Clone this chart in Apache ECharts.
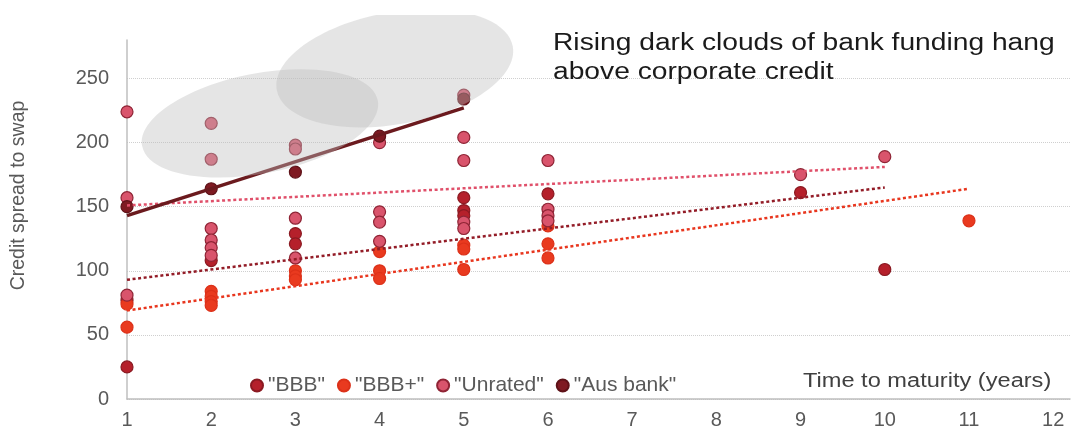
<!DOCTYPE html>
<html lang="en">
  <head>
    <meta charset="UTF-8">
    <title>Bank funding clouds</title>
    <script src="https://cdn.jsdelivr.net/npm/echarts@6/dist/echarts.min.js"></script>
    <style>body { margin: 0; background: #fff; }</style>
  </head>
  <body>
    <div id="main" style="width:1081px;height:431px;"></div>
    <script type="text/javascript">
      // points are [years to maturity, credit spread to swap (bp)]
      const bbb = [[1, 77], [1, 25], [2, 108], [3, 129], [3, 121], [5, 157], [5, 147], [5, 143],
        [6, 160], [9, 161], [10, 101]];
      const bbbPlus = [[1, 74], [1, 56], [2, 84], [2, 80], [2, 76], [2, 73], [3, 100], [3, 96], [3, 93],
        [4, 115], [4, 100], [4, 94], [5, 120], [5, 117], [5, 101], [6, 135], [6, 121], [6, 110], [11, 139]];
      const unrated = [[1, 224], [1, 157], [1, 81], [2, 215], [2, 187], [2, 133], [2, 124], [2, 118], [2, 112],
        [3, 198], [3, 195], [3, 141], [3, 110], [4, 200], [4, 146], [4, 138], [4, 123],
        [5, 237], [5, 204], [5, 186], [5, 138], [5, 133], [6, 186], [6, 148], [6, 143], [6, 139],
        [9, 175], [10, 189]];
      const ausBank = [[1, 150], [2, 164], [3, 177], [4, 205], [5, 234]];

      // trend lines, start and end
      const bbbTrend = [[1, 93], [10, 165]];
      const bbbPlusTrend = [[1, 69], [11, 164]];
      const unratedTrend = [[1, 151], [10, 181]];
      const ausBankTrend = [[1, 143], [5, 227]];

      const names = ['"BBB"', '"BBB+"', '"Unrated"', '"Aus bank"'];

      // the grey clouds, centred in data units
      const cloudCentres = [[2.58, 215], [4.18, 258]];

      const font = '"Liberation Sans", Arial, sans-serif';
      const grey = '#595959';

      function dots(name, data, fill, border) {
        return {
          name: name, type: 'scatter', data: data, symbolSize: 12,
          itemStyle: { color: fill, borderColor: border, borderWidth: 1.2, opacity: 1 },
          z: 2
        };
      }
      function trend(data, color, width, dash) {
        return {
          type: 'line', data: data, symbol: 'none', silent: true, z: 3,
          lineStyle: { color: color, width: width, type: dash || 'solid' }
        };
      }

      let myChart = echarts.init(document.getElementById('main'));
      myChart.setOption({
        animation: false,
        textStyle: { fontFamily: font },
        grid: { left: 127, right: 11, top: 40, bottom: 32 },
        legend: {
          data: names, left: 245, top: 370, icon: 'circle',
          itemWidth: 12, itemHeight: 12, itemGap: 12,
          textStyle: { fontSize: 21, color: grey, fontFamily: font }
        },
        xAxis: {
          type: 'value', min: 1, max: 12.2, interval: 1,
          axisLine: { lineStyle: { color: '#bfbfbf', width: 1.5 } },
          axisTick: { show: false },
          splitLine: { show: false },
          axisLabel: { fontSize: 20, color: grey, margin: 11, showMaxLabel: false }
        },
        yAxis: {
          type: 'value', min: 0, max: 280, interval: 50,
          name: 'Credit spread to swap', nameLocation: 'middle', nameGap: 98,
          nameTextStyle: { fontSize: 19.5, color: grey, padding: [0, 0, 0, 48] },
          axisLine: { show: true, lineStyle: { color: '#bfbfbf', width: 1.5 } },
          axisTick: { show: false },
          axisLabel: { fontSize: 20, color: grey, margin: 18, showMaxLabel: false },
          splitLine: { showMaxLine: false, lineStyle: { color: '#cfcfcf', type: 'dotted' } }
        },
        series: [
          dots(names[0], bbb, '#b5202b', '#8b1a22'),
          dots(names[1], bbbPlus, '#e93a1f', '#dc3119'),
          dots(names[2], unrated, '#d9546c', '#8f2435'),
          dots(names[3], ausBank, '#7f1a22', '#5e1218'),
          trend(unratedTrend, '#e0506a', 2.5, [3, 2.6]),
          trend(bbbTrend, '#931c27', 2.5, [3, 2.6]),
          trend(bbbPlusTrend, '#e8361e', 2.5, [3, 2.6]),
          trend(ausBankTrend, '#6b1a1e', 3.5)
        ]
      });

      // clouds go on top, sized in pixels around their data centres
      const cloudSizes = [{ rx: 120, ry: 50, tilt: 11 }, { rx: 120, ry: 56, tilt: 10.5 }];
      const graphics = cloudCentres.map((c, i) => {
        const p = myChart.convertToPixel({ gridIndex: 0 }, c);
        return {
          type: 'ellipse', x: p[0], y: p[1], rotation: cloudSizes[i].tilt * Math.PI / 180,
          shape: { cx: 0, cy: 0, rx: cloudSizes[i].rx, ry: cloudSizes[i].ry },
          style: { fill: 'rgba(190,190,190,0.4)' }, silent: true, z: 50
        };
      });
      // the original crops the upper cloud at the top
      graphics.push({ type: 'rect', shape: { x: 0, y: 0, width: 1081, height: 15 }, style: { fill: '#fff' }, z: 51 });
      graphics.push({
        type: 'text', x: 553, y: 29, scaleX: 1.2, z: 60,
        style: {
          text: 'Rising dark clouds of bank funding hang\nabove corporate credit',
          fontSize: 23.5, fontFamily: font, fill: '#1a1a1a', lineHeight: 29, verticalAlign: 'top'
        }
      });
      graphics.push({
        type: 'text', x: 803, y: 381, scaleX: 1.18, z: 60,
        style: { text: 'Time to maturity (years)', fontSize: 20, fontFamily: font, fill: '#404040', verticalAlign: 'middle' }
      });
      myChart.setOption({ graphic: graphics });
    </script>
  </body>
</html>
